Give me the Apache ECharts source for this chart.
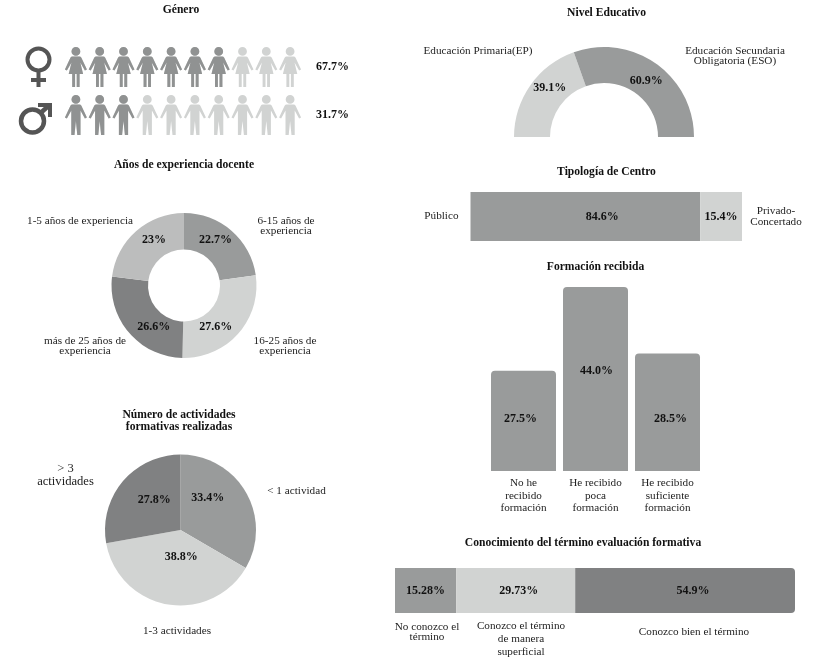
<!DOCTYPE html>
<html>
<head>
<meta charset="utf-8">
<title>Perfil docente</title>
<script src="https://cdn.jsdelivr.net/npm/echarts@6/dist/echarts.min.js"></script>
<style>
  html, body { margin: 0; padding: 0; background: #fff; }
  #main { width: 820px; height: 669px; }
</style>
</head>
<body>
<div id="main"></div>
<script>
// Género
const generoRows = ['Mujer', 'Hombre'];
const generoPct = ['67.7%', '31.7%'];
const generoFilled = [7, 3];
const generoTotal = 10;

// Años de experiencia docente
const experienciaNames = ['6-15 años de\nexperiencia', '16-25 años de\nexperiencia', 'más de 25 años de\nexperiencia', '1-5 años de experiencia'];
const experienciaValues = [22.7, 27.6, 26.6, 23];

// Número de actividades
const actividadesNames = ['< 1 actividad', '1-3 actividades', '> 3\nactividades'];
const actividadesValues = [33.4, 38.8, 27.8];

// Nivel educativo
const nivelNames = ['Educación Primaria(EP)', 'Educación Secundaria\nObligatoria (ESO)'];
const nivelValues = [39.1, 60.9];

// Tipología de centro
const tipologiaNames = ['Público', 'Privado-\nConcertado'];
const tipologiaValues = [84.6, 15.4];

// Formación recibida: the picture's bars are not to scale with their printed
// numbers, so heights are read off the bars and the labels are kept apart
const formacionNames = ['No he\nrecibido\nformación', 'He recibido\npoca\nformación', 'He recibido\nsuficiente\nformación'];
const formacionHeights = [24.0, 44.0, 28.1];
const formacionLabels = ['27.5%', '44.0%', '28.5%'];

// Conocimiento del término
const conocimientoNames = ['No conozco el\ntérmino', 'Conozco el término\nde manera\nsuperficial', 'Conozco bien el término'];
const conocimientoValues = [15.28, 29.73, 54.9];

const FONT = '"Liberation Serif", serif';
const DARK = '#808182', MID = '#999b9b', SOFT = '#bcbdbd', LIGHT = '#d1d3d2', INK = '#111';

const womanPath = 'path://M11 0a4.4 4.4 0 1 0 .01 0zM7.5 9.6h7q1.3 0 2 1.2L22 22.6l-2 1-4.6-8 2.8 11.4h-3.5V40h-2.9V27h-1.6v13H7.3V27H3.8l2.8-11.4-4.6 8-2-1 5.5-11.8q.7-1.2 2-1.2z';
const manPath = 'path://M11 0a4.4 4.4 0 1 0 .01 0zM7.5 9.6h7q1.3 0 2 1.2L22 22.6l-2 1-4.4-8V40h-3.2L11 26l-1.4 14H6.4V15.6l-4.4 8-2-1 5.5-11.8q.7-1.2 2-1.2z';
const rowIcons = [womanPath, manPath];

function titleAt(text, x, y) {
  return {
    text: text, left: x, top: y, padding: 0, textAlign: 'center',
    textStyle: { fontFamily: FONT, fontSize: 11.6, fontWeight: 'bold', color: INK, lineHeight: 12 }
  };
}
function noteAt(text, x, y, lineHeight, size) {
  return {
    type: 'text', x: x, y: y,
    style: { text: text, font: (size || 11.2) + 'px ' + FONT, fill: '#222', align: 'center', verticalAlign: 'middle', lineHeight: lineHeight || 10.5 }
  };
}
function pctLabel(extra) {
  return Object.assign({ show: true, fontFamily: FONT, fontSize: 12, fontWeight: 'bold', color: INK }, extra);
}
function pieData(names, values, colors) {
  return values.map(function (v, i) {
    return { name: names[i], value: v, itemStyle: { color: colors[i] } };
  });
}
function nudged(offsets) {
  return function (p) {
    return { dx: offsets[p.dataIndex][0], dy: offsets[p.dataIndex][1] };
  };
}
function stackSeries(stack, name, value, color, xIdx, yIdx, radius, text, offset) {
  return {
    type: 'bar', name: name, stack: stack, xAxisIndex: xIdx, yAxisIndex: yIdx, barWidth: '100%',
    data: [value], itemStyle: { color: color, borderRadius: radius || 0 },
    label: pctLabel({ position: 'inside', formatter: text, offset: offset || [0, 0] }),
    silent: true
  };
}
function iconSeries(values, color, z) {
  return {
    type: 'pictorialBar', xAxisIndex: 0, yAxisIndex: 0, barGap: '-100%', barCategoryGap: '0%', z: z,
    symbolSize: [22, 40], symbolPosition: 'start', symbolMargin: '4%!',
    symbolRepeat: generoTotal, symbolBoundingData: generoTotal, symbolClip: true,
    itemStyle: { color: color }, silent: true,
    data: generoRows.map(function (r, i) {
      return { value: values[i], symbol: rowIcons[i] };
    })
  };
}

const option = {
  backgroundColor: '#fff',
  animation: false,
  textStyle: { fontFamily: FONT },
  title: [
    titleAt('Género', 181, 4),
    titleAt('Años de experiencia docente', 184, 159),
    titleAt('Número de actividades\nformativas realizadas', 179, 409),
    titleAt('Nivel Educativo', 606.5, 7),
    titleAt('Tipología de Centro', 606.5, 166),
    titleAt('Formación recibida', 595.5, 261),
    titleAt('Conocimiento del término evaluación formativa', 583, 537)
  ],
  grid: [
    { left: 64, top: 43, width: 238, height: 96 },
    { left: 470.5, top: 192, width: 271.5, height: 49 },
    { left: 487.5, top: 287, width: 216, height: 184 },
    { left: 395, top: 568, width: 400, height: 45 }
  ],
  xAxis: [
    { gridIndex: 0, type: 'value', min: 0, max: generoTotal, show: false },
    { gridIndex: 1, type: 'value', min: 0, max: 100, show: false },
    {
      gridIndex: 2, type: 'category', data: formacionNames,
      axisLine: { show: false }, axisTick: { show: false },
      axisLabel: { interval: 0, margin: 6, fontFamily: FONT, fontSize: 11.2, color: '#222', lineHeight: 12.5 }
    },
    { gridIndex: 3, type: 'value', min: 0, max: 99.91, show: false }
  ],
  yAxis: [
    { gridIndex: 0, type: 'category', inverse: true, data: generoRows, show: false },
    {
      gridIndex: 0, type: 'category', inverse: true, position: 'right', data: generoPct,
      axisLine: { show: false }, axisTick: { show: false },
      axisLabel: { margin: 14, fontFamily: FONT, fontSize: 12, fontWeight: 'bold', color: INK }
    },
    {
      gridIndex: 1, type: 'category', data: [tipologiaNames[0]],
      axisLine: { show: false }, axisTick: { show: false },
      axisLabel: { margin: 12, fontFamily: FONT, fontSize: 11.2, color: '#222' }
    },
    {
      gridIndex: 1, type: 'category', position: 'right', data: [tipologiaNames[1]],
      axisLine: { show: false }, axisTick: { show: false },
      axisLabel: { margin: 34, align: 'center', fontFamily: FONT, fontSize: 11.2, color: '#222', lineHeight: 10.5 }
    },
    { gridIndex: 2, type: 'value', min: 0, max: 44, show: false },
    { gridIndex: 3, type: 'category', data: ['Conocimiento'], show: false }
  ],
  series: [
    iconSeries(generoRows.map(function () { return generoTotal; }), LIGHT, 2),
    iconSeries(generoFilled, '#909292', 3),
    {
      type: 'pie', center: [184, 285.5], radius: [36, 72.5], startAngle: 90, silent: true,
      data: pieData(experienciaNames, experienciaValues, [MID, LIGHT, DARK, SOFT]),
      label: pctLabel({ position: 'inside', formatter: '{c}%' }), labelLine: { show: false },
      labelLayout: nudged([[-6, -2], [-11, 3], [13, 4], [8, -3]])
    },
    {
      type: 'pie', center: [180.5, 530], radius: [0, 75.5], startAngle: 90, silent: true,
      data: pieData(actividadesNames, actividadesValues, [MID, LIGHT, DARK]),
      label: pctLabel({ position: 'inside', formatter: '{c}%' }), labelLine: { show: false },
      labelLayout: nudged([[-8, -12], [8, -13], [5, -4]])
    },
    {
      type: 'pie', center: [604, 137], radius: [54, 90], startAngle: 180, endAngle: 0, silent: true,
      data: pieData(nivelNames, nivelValues, [LIGHT, MID]),
      label: pctLabel({ position: 'inside', formatter: '{c}%' }), labelLine: { show: false },
      labelLayout: nudged([[7, -6], [-1, 5]])
    },
    stackSeries('tipologia', tipologiaNames[0], tipologiaValues[0], MID, 1, 2, 0, '84.6%', [17, 0]),
    stackSeries('tipologia', tipologiaNames[1], tipologiaValues[1], LIGHT, 1, 2, 0, '15.4%'),
    {
      type: 'bar', xAxisIndex: 2, yAxisIndex: 4, barWidth: 65, silent: true,
      data: formacionHeights.map(function (h, i) {
        return { value: h, label: { offset: [[-3, -2], [1, -8], [3, 7]][i] } };
      }),
      itemStyle: { color: MID, borderRadius: [4, 4, 0, 0] },
      label: pctLabel({
        position: 'inside',
        formatter: function (p) { return formacionLabels[p.dataIndex]; }
      })
    },
    stackSeries('conocimiento', conocimientoNames[0], conocimientoValues[0], MID, 3, 5, 0, '15.28%'),
    stackSeries('conocimiento', conocimientoNames[1], conocimientoValues[1], LIGHT, 3, 5, 0, '29.73%', [3, 0]),
    stackSeries('conocimiento', conocimientoNames[2], conocimientoValues[2], DARK, 3, 5, [0, 4, 4, 0], '54.9%', [8, 0])
  ],
  graphic: [
    // gender signs
    { type: 'circle', shape: { cx: 38.5, cy: 59.5, r: 11 }, style: { fill: 'none', stroke: '#555', lineWidth: 4 } },
    { type: 'line', shape: { x1: 38.5, y1: 71, x2: 38.5, y2: 87 }, style: { stroke: '#555', lineWidth: 4 } },
    { type: 'line', shape: { x1: 31, y1: 80, x2: 46, y2: 80 }, style: { stroke: '#555', lineWidth: 4 } },
    { type: 'circle', shape: { cx: 32.5, cy: 121, r: 11.5 }, style: { fill: 'none', stroke: '#555', lineWidth: 4.5 } },
    { type: 'line', shape: { x1: 40.5, y1: 113, x2: 49, y2: 105.5 }, style: { stroke: '#555', lineWidth: 4.5 } },
    { type: 'polyline', shape: { points: [[38, 105], [50, 105], [50, 117]] }, style: { fill: 'none', stroke: '#555', lineWidth: 4 } },
    // callouts
    noteAt(experienciaNames[3], 80, 221),
    noteAt(experienciaNames[0], 286, 226),
    noteAt(experienciaNames[1], 285, 346),
    noteAt(experienciaNames[2], 85, 346),
    noteAt(actividadesNames[0], 296.5, 491),
    noteAt(actividadesNames[1], 177, 631),
    noteAt(actividadesNames[2], 65.5, 475.5, 12.7, 12.6),
    noteAt(nivelNames[0], 478, 51),
    noteAt(nivelNames[1], 735, 56),
    noteAt(conocimientoNames[0], 427, 632),
    noteAt(conocimientoNames[1], 521, 639.5, 13),
    noteAt(conocimientoNames[2], 694, 632)
  ]
};

const chart = echarts.init(document.getElementById('main'), null, { renderer: 'canvas' });
chart.setOption(option);
</script>
</body>
</html>
